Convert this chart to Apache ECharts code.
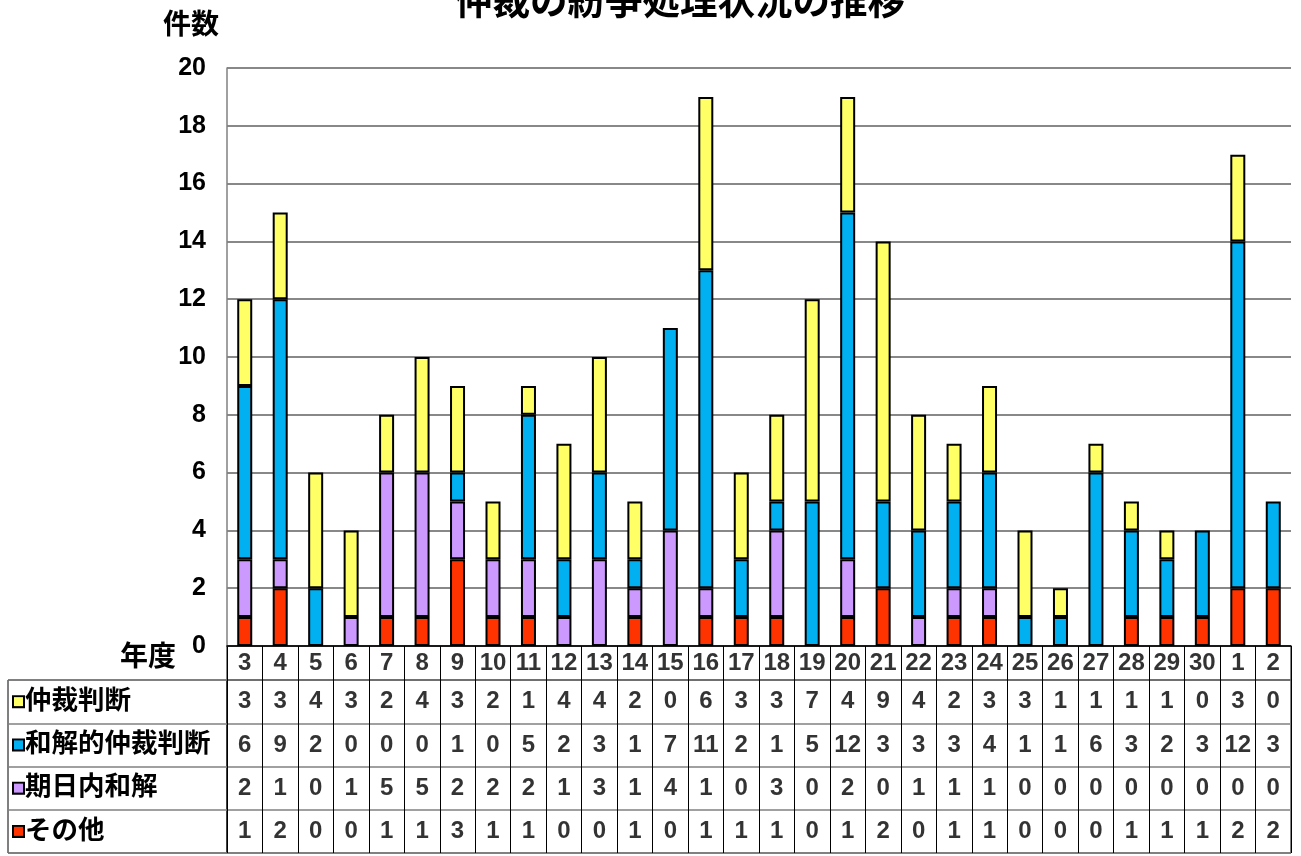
<!DOCTYPE html>
<html><head><meta charset="utf-8">
<script src="https://cdn.jsdelivr.net/npm/echarts@6/dist/echarts.min.js"></script>
<style>html,body{margin:0;padding:0;background:#fff}#c{width:1301px;height:856px}</style>
</head><body><div id="c"></div>
<script>
const categories = ['3','4','5','6','7','8','9','10','11','12','13','14','15','16','17','18','19','20','21','22','23','24','25','26','27','28','29','30','1','2'];
const seriesNames = ['仲裁判断','和解的仲裁判断','期日内和解','その他'];
const chusaiHandan = [3,3,4,3,2,4,3,2,1,4,4,2,0,6,3,3,7,4,9,4,2,3,3,1,1,1,1,0,3,0];
const wakaiChusai  = [6,9,2,0,0,0,1,0,5,2,3,1,7,11,2,1,5,12,3,3,3,4,1,1,6,3,2,3,12,3];
const kijitsuWakai = [2,1,0,1,5,5,2,2,2,1,3,1,4,1,0,3,0,2,0,1,1,1,0,0,0,0,0,0,0,0];
const sonota       = [1,2,0,0,1,1,3,1,1,0,0,1,0,1,1,1,0,1,2,0,1,1,0,0,0,1,1,1,2,2];
const yMin = 0, yMax = 20, yStep = 2;
const titleText = '仲裁の紛争処理状況の推移';
const yName = '件数';
const xName = '年度';

const rowValues = [chusaiHandan, wakaiChusai, kijitsuWakai, sonota];
const colors = ['#FFFF66', '#00B0F0', '#CC99FF', '#FF3300'];
const FONT = "'Liberation Sans','Noto Sans CJK JP',sans-serif";

const L = 227, W = 1064;
const chart = echarts.init(document.getElementById('c'));

// stacked bars: bottom to top = その他, 期日内和解, 和解的仲裁判断, 仲裁判断
const barSeries = [3,2,1,0].map(r => ({
  name: seriesNames[r], type: 'bar', stack: 'total',
  xAxisIndex: 0, yAxisIndex: 0, barWidth: 15,
  itemStyle: { color: colors[r], borderColor: '#000', borderWidth: 2 },
  data: rowValues[r].map(v => v === 0 ? '-' : v)
}));

const tableData = [];
rowValues.forEach((arr, r) => arr.forEach((v, i) => tableData.push([i, r, v])));

const rich = { t: { fontSize: 26.5, fontWeight: 'bold', fontFamily: FONT, color: '#000', padding: [0,0,0,2] } };
colors.forEach((c, k) => { rich['s' + k] = { width: 9, height: 9, backgroundColor: c, borderColor: '#000', borderWidth: 2 }; });

const numLabel = { show: true, position: 'inside', formatter: p => p.value[2], fontSize: 24, fontWeight: 'bold', fontFamily: FONT, color: '#000' };

chart.setOption({
  animation: false,
  backgroundColor: '#fff',
  title: [
    { text: titleText, left: 455, top: -15, padding: 0, textStyle: { fontSize: 37.5, fontWeight: 'bold', fontFamily: FONT, color: '#000' } },
    { text: yName, left: 163, top: 12, padding: 0, textStyle: { fontSize: 28, fontWeight: 'bold', fontFamily: FONT, color: '#000' } },
    { text: xName, left: 120, top: 644, padding: 0, textStyle: { fontSize: 28, fontWeight: 'bold', fontFamily: FONT, color: '#000' } }
  ],
  grid: [
    { left: L, width: W, top: 68, height: 578 },
    { left: L, width: W, top: 646, height: 34, show: true, borderColor: '#000', borderWidth: 1 },
    { left: L, width: W, top: 680, height: 173, show: true, borderColor: '#000', borderWidth: 1 },
    { left: 8, width: 219, top: 680, height: 173, show: true, borderColor: '#000', borderWidth: 1 }
  ],
  xAxis: [
    { gridIndex: 0, type: 'category', data: categories, axisLabel: { show: false }, axisTick: { show: false },
      axisLine: { lineStyle: { color: '#000', width: 1.5 } } },
    { gridIndex: 1, type: 'category', data: categories, axisLabel: { show: false }, axisTick: { show: false },
      axisLine: { show: false }, splitLine: { show: true, interval: 0, lineStyle: { color: '#000', width: 1 } } },
    { gridIndex: 2, type: 'category', data: categories, axisLabel: { show: false }, axisTick: { show: false },
      axisLine: { show: false }, splitLine: { show: true, interval: 0, lineStyle: { color: '#000', width: 1 } } },
    { gridIndex: 3, type: 'value', min: 0, max: 1, show: false }
  ],
  yAxis: [
    { gridIndex: 0, type: 'value', min: yMin, max: yMax, interval: yStep,
      axisLine: { show: true, lineStyle: { color: '#808080', width: 1.5 } }, axisTick: { show: false },
      axisLabel: { margin: 21, fontSize: 25, fontWeight: 'bold', fontFamily: FONT, color: '#000' },
      splitLine: { lineStyle: { color: '#606060', width: 1.5 } } },
    { gridIndex: 1, type: 'category', data: [xName], show: false },
    { gridIndex: 2, type: 'category', data: seriesNames, inverse: true, axisLabel: { show: false },
      axisTick: { show: false }, axisLine: { show: false },
      splitLine: { show: true, interval: 0, lineStyle: { color: '#808080', width: 1.5 } } },
    { gridIndex: 3, type: 'category', data: seriesNames, inverse: true, axisTick: { show: false }, axisLine: { show: false },
      splitLine: { show: true, interval: 0, lineStyle: { color: '#808080', width: 1.5 } },
      axisLabel: { inside: true, margin: 6, interval: 0, rich: rich,
        formatter: (v, i) => '{s' + i + '|}{t|' + v + '}' } }
  ],
  series: barSeries.concat([
    { type: 'scatter', xAxisIndex: 1, yAxisIndex: 1, symbolSize: 1, itemStyle: { color: 'rgba(0,0,0,0)' },
      data: categories.map((c, i) => [i, 0, c]), label: numLabel },
    { type: 'scatter', xAxisIndex: 2, yAxisIndex: 2, symbolSize: 1, itemStyle: { color: 'rgba(0,0,0,0)' },
      data: tableData, label: numLabel }
  ])
});
</script></body></html>
